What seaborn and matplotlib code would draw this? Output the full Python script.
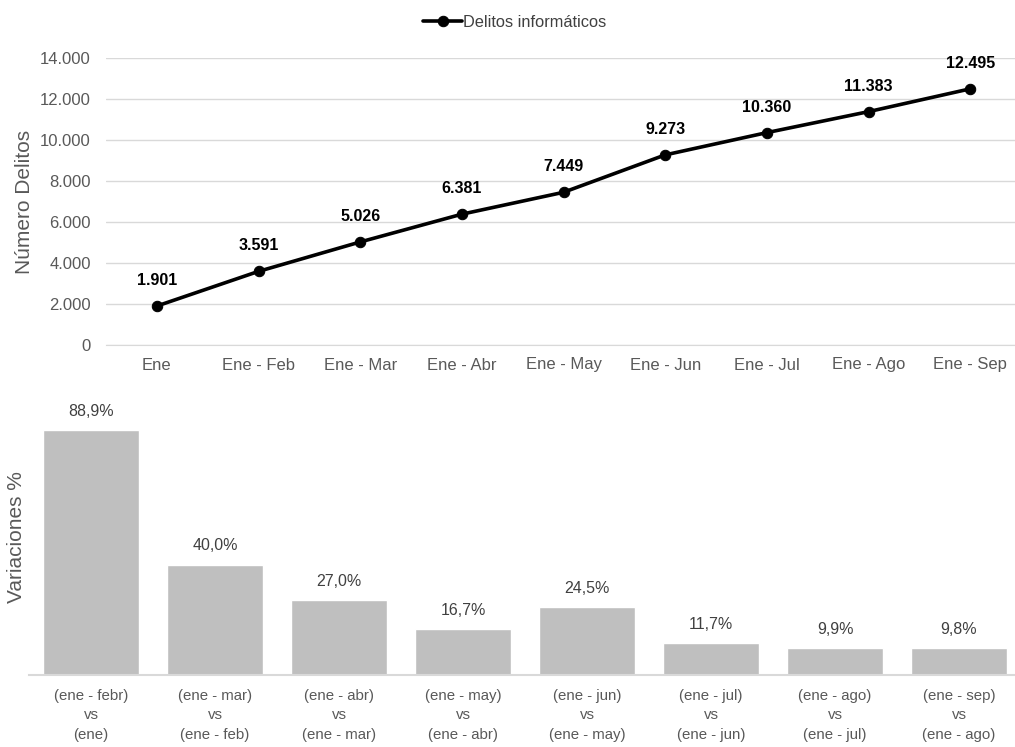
import pandas as pd
import seaborn as sns
import matplotlib.pyplot as plt
from matplotlib.ticker import FuncFormatter, FixedLocator

# Datos acumulados
periodos = ["Ene", "Ene - Feb", "Ene - Mar", "Ene - Abr", "Ene - May",
            "Ene - Jun", "Ene - Jul", "Ene - Ago", "Ene - Sep"]
delitos = [1901, 3591, 5026, 6381, 7449, 9273, 10360, 11383, 12495]

# Variaciones porcentuales
comparaciones = ["(ene - febr)\nvs\n(ene)", "(ene - mar)\nvs\n(ene - feb)",
                 "(ene - abr)\nvs\n(ene - mar)", "(ene - may)\nvs\n(ene - abr)",
                 "(ene - jun)\nvs\n(ene - may)", "(ene - jul)\nvs\n(ene - jun)",
                 "(ene - ago)\nvs\n(ene - jul)", "(ene - sep)\nvs\n(ene - ago)"]
variaciones = [88.9, 40.0, 27.0, 16.7, 24.5, 11.7, 9.9, 9.8]

sns.set_style("white")
plt.rcParams['font.family'] = ['Liberation Sans', 'DejaVu Sans']

gris_txt = "#595959"
gris_linea = "#d9d9d9"

fig = plt.figure(figsize=(10.15, 7.47), dpi=100)
ax1 = fig.add_axes([106 / 1015, 402 / 747, 915 / 1015, 287 / 747])
ax2 = fig.add_axes([29 / 1015, 72 / 747, 992 / 1015, 276 / 747])

# --- Gráfico de línea ---
df1 = pd.DataFrame({"periodo": periodos, "delitos": delitos})
sns.lineplot(data=df1, x="periodo", y="delitos", ax=ax1, color="black",
             linewidth=2.6, marker="o", markersize=7.5, markeredgecolor="black",
             label="Delitos informáticos", legend=False, sort=False)
ax1.set_xlim(-0.5, len(periodos) - 0.5)
ax1.set_ylim(0, 14000)
ax1.set_yticks(range(0, 14001, 2000))
ax1.yaxis.set_major_formatter(FuncFormatter(lambda v, p: f"{int(v):,}".replace(",", ".")))
ax1.grid(True, axis="y", color=gris_linea, linewidth=1)
ax1.set_axisbelow(True)
for s in ["top", "right", "left"]:
    ax1.spines[s].set_visible(False)
ax1.spines["bottom"].set_color(gris_linea)
ax1.xaxis.set_minor_locator(FixedLocator([i - 0.5 for i in range(len(periodos) + 1)]))
ax1.tick_params(axis="x", which="major", length=0, pad=9, labelsize=12, labelcolor=gris_txt)
ax1.tick_params(axis="x", which="minor", length=6, color=gris_linea, direction="out")
ax1.tick_params(axis="y", length=0, pad=11, labelsize=12, labelcolor=gris_txt)
ax1.set_xlabel("")
ax1.set_ylabel("Número Delitos", fontsize=15, color=gris_txt, labelpad=4)
for i, v in enumerate(delitos):
    ax1.annotate(f"{v:,}".replace(",", "."), (i, v), xytext=(0, 13),
                 textcoords="offset points", ha="center", va="bottom",
                 fontsize=11.5, fontweight="bold", color="black")

fig.legend(*ax1.get_legend_handles_labels(), loc="upper center",
           bbox_to_anchor=(0.507, 1.0), frameon=False, fontsize=11.8,
           handlelength=2.4, handletextpad=0.05, labelcolor="#404040")

# --- Gráfico de barras ---
df2 = pd.DataFrame({"comparacion": comparaciones, "variacion": variaciones})
sns.barplot(data=df2, x="comparacion", y="variacion", ax=ax2, color="#bfbfbf",
            saturation=1, width=0.77)
ax2.set_xlim(-0.5, len(comparaciones) - 0.5)
ax2.set_ylim(0, 100)
ax2.set_yticks([])
for s in ["top", "right", "left"]:
    ax2.spines[s].set_visible(False)
ax2.spines["bottom"].set_color(gris_linea)
ax2.spines["bottom"].set_linewidth(1.5)
ax2.xaxis.set_minor_locator(FixedLocator([i - 0.5 for i in range(len(comparaciones) + 1)]))
ax2.tick_params(axis="x", which="major", length=0, pad=10, labelsize=10.8, labelcolor=gris_txt)
ax2.tick_params(axis="x", which="minor", length=7, color=gris_linea, direction="inout")
ax2.set_xlabel("")
ax2.set_ylabel("Variaciones %", fontsize=15, color=gris_txt, labelpad=2)
for lbl in ax2.get_xticklabels():
    lbl.set_linespacing(1.5)
for i, v in enumerate(variaciones):
    ax2.annotate(f"{v:.1f}%".replace(".", ","), (i, v), xytext=(0, 8),
                 textcoords="offset points", ha="center", va="bottom",
                 fontsize=11.5, color="#404040")

fig.savefig("out.png", dpi=100)
